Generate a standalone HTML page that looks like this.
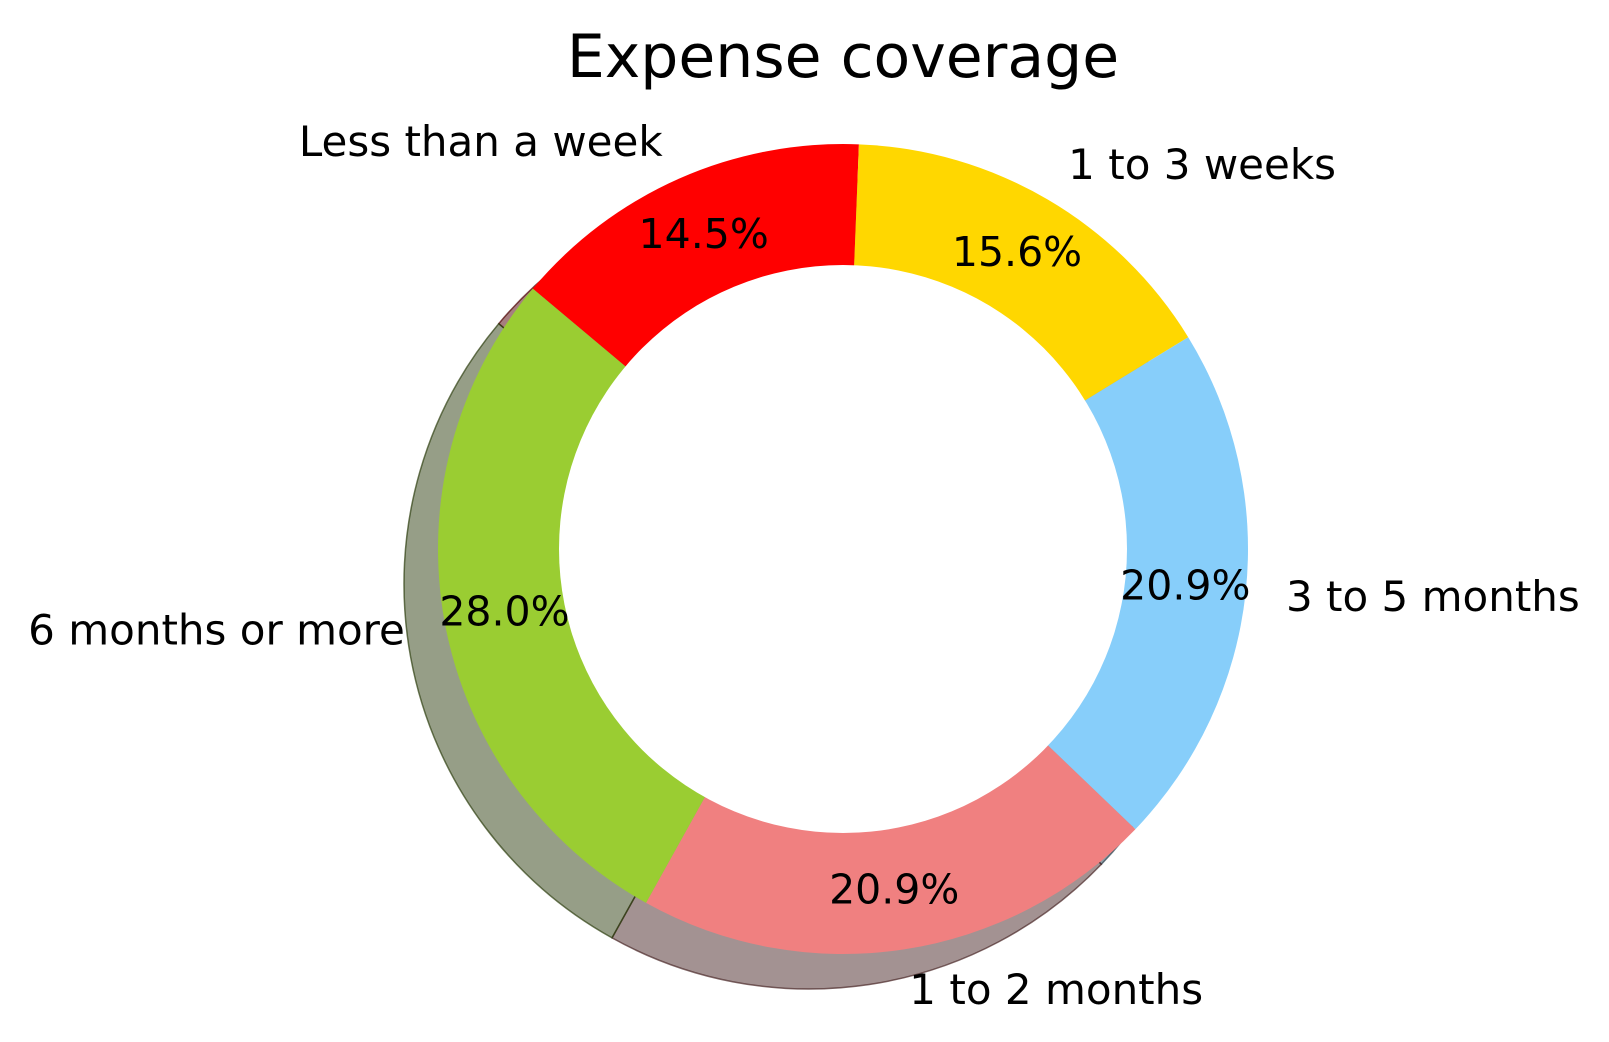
<!DOCTYPE html>
<html><head><meta charset="utf-8"><style>
html,body{margin:0;padding:0;background:#fff;}
svg{display:block;font-family:"DejaVu Sans","Liberation Sans",sans-serif;}
</style></head><body>
<svg id="chart" width="1609" height="1042" viewBox="0 0 1609 1042">
<text x="843" y="57" font-size="60" text-anchor="middle" dominant-baseline="central" fill="#000">Expense coverage</text>
<g id="shadows"></g><g id="wedges"></g><g id="labels"></g>
</svg>
<script>
const categories = ["Less than a week","1 to 3 weeks","3 to 5 months","1 to 2 months","6 months or more"];
const values = [14.5, 15.6, 20.9, 20.9, 28.0];
const colors = ["#ff0000","#ffd700","#87cefa","#f08080","#9acd32"];
const cx=843, cy=549, R=405, r=284, startAngle=140;
const NS="http://www.w3.org/2000/svg";
const total=values.reduce((a,b)=>a+b,0);
function pt(a,rad,ox,oy){const t=a*Math.PI/180;return [cx+ox+rad*Math.cos(t), cy+oy-rad*Math.sin(t)];}
function wedgePath(a0,a1,ox,oy){
  const p0=pt(a0,R,ox,oy), p1=pt(a1,R,ox,oy);
  const large=(a0-a1)>180?1:0;
  return `M${cx+ox},${cy+oy} L${p0[0]},${p0[1]} A${R},${R} 0 ${large} 1 ${p1[0]},${p1[1]} Z`;
}
function dark(hex){const n=parseInt(hex.slice(1),16);return `rgb(${Math.round(((n>>16)&255)*0.3)},${Math.round(((n>>8)&255)*0.3)},${Math.round((n&255)*0.3)})`;}
const sh=document.getElementById('shadows'), wg=document.getElementById('wedges'), lb=document.getElementById('labels');
let a=startAngle;
values.forEach((v,i)=>{
  const span=v/total*360, a0=a, a1=a-span, mid=(a0+a1)/2;
  const s=document.createElementNS(NS,'path');
  s.setAttribute('d',wedgePath(a0,a1,-34,35));
  s.setAttribute('fill',dark(colors[i]));s.setAttribute('fill-opacity','0.5');
  s.setAttribute('stroke',dark(colors[i]));s.setAttribute('stroke-opacity','0.7');s.setAttribute('stroke-width','1.5');
  
  
  sh.appendChild(s);
  const w=document.createElementNS(NS,'path');
  w.setAttribute('d',wedgePath(a0,a1,0,0));w.setAttribute('fill',colors[i]);
  
  
  wg.appendChild(w);
  const lp=pt(mid,R*1.1,0,0);
  const t=document.createElementNS(NS,'text');
  t.setAttribute('x',lp[0]);t.setAttribute('y',lp[1]);t.setAttribute('font-size','42');
  t.setAttribute('text-anchor',Math.cos(mid*Math.PI/180)>=0?'start':'end');
  t.setAttribute('dominant-baseline','central');t.textContent=categories[i];
  
  
  lb.appendChild(t);
  const pp=pt(mid,R*0.85,0,0);
  const p=document.createElementNS(NS,'text');
  p.setAttribute('x',pp[0]);p.setAttribute('y',pp[1]);p.setAttribute('font-size','41');
  p.setAttribute('text-anchor','middle');p.setAttribute('dominant-baseline','central');
  p.textContent=v.toFixed(1)+'%';
  
  
  lb.appendChild(p);
  a=a1;
});
const c=document.createElementNS(NS,'circle');
c.setAttribute('cx',cx);c.setAttribute('cy',cy);c.setAttribute('r',r);c.setAttribute('fill','#fff');


wg.appendChild(c);
</script>
</body></html>
